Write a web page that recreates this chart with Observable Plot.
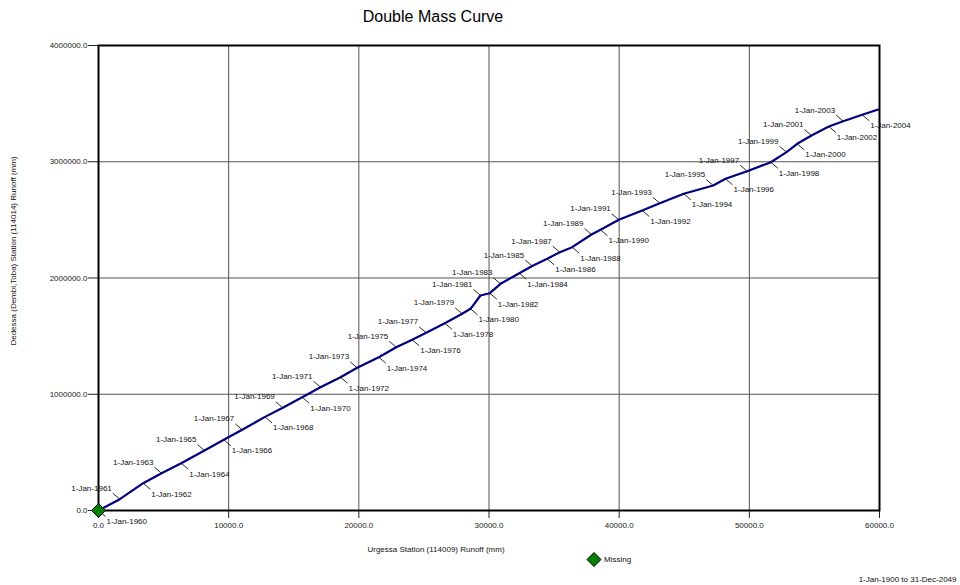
<!DOCTYPE html>
<html>
<head>
<meta charset="utf-8">
<script src="https://cdn.jsdelivr.net/npm/d3@7"></script>
<script src="https://cdn.jsdelivr.net/npm/@observablehq/plot@0.6"></script>
<style>
  html, body { margin: 0; padding: 0; background: white; }
  #chart { width: 960px; height: 585px; }
</style>
</head>
<body>
<div id="chart"></div>
<script>
// Cumulative runoff (one point per 1 January, plus the series end)
const dateLabels = [
  "1-Jan-1960","1-Jan-1961","1-Jan-1962","1-Jan-1963","1-Jan-1964","1-Jan-1965","1-Jan-1966","1-Jan-1967",
  "1-Jan-1968","1-Jan-1969","1-Jan-1970","1-Jan-1971","1-Jan-1972","1-Jan-1973","1-Jan-1974","1-Jan-1975",
  "1-Jan-1976","1-Jan-1977","1-Jan-1978","1-Jan-1979","1-Jan-1980","1-Jan-1981","1-Jan-1982","1-Jan-1983",
  "1-Jan-1984","1-Jan-1985","1-Jan-1986","1-Jan-1987","1-Jan-1988","1-Jan-1989","1-Jan-1990","1-Jan-1991",
  "1-Jan-1992","1-Jan-1993","1-Jan-1994","1-Jan-1995","1-Jan-1996","1-Jan-1997","1-Jan-1998","1-Jan-1999",
  "1-Jan-2000","1-Jan-2001","1-Jan-2002","1-Jan-2003","1-Jan-2004",""
];
const urgessaCum = [
  0, 1636, 3434, 4840, 6353, 8143, 9626, 11040, 12791, 14159, 15649, 17055, 18592, 19875, 21534, 22871,
  24100, 25175, 26605, 27941, 28579, 29347, 30062, 30884, 32328, 33319, 34471, 35440, 36392, 37875, 38566,
  39972, 41770, 43122, 44966, 47224, 48170, 49836, 51650, 52856, 53677, 54776, 56105, 57211, 58671, 59900
];
const dedessaCum = [
  0, 97200, 234800, 320900, 406900, 516100, 608200, 694200, 805200, 883400, 974600, 1060700, 1146700,
  1227500, 1318700, 1404700, 1468400, 1528600, 1611200, 1692000, 1735000, 1849500, 1869300, 1950100,
  2041300, 2103200, 2165200, 2222000, 2265000, 2374200, 2414600, 2500600, 2580600, 2643500, 2724300,
  2795700, 2853300, 2918700, 2996100, 3082200, 3154400, 3225800, 3303200, 3348800, 3403800, 3449400
];
const xTicks = [0, 10000, 20000, 30000, 40000, 50000, 60000];
const yTicks = [0, 1000000, 2000000, 3000000, 4000000];

const titleText = ["Double Mass Curve"];
const xTitle = ["Urgessa Station (114009) Runoff (mm)"];
const yTitle = ["Dedessa (Dembi,Toba) Station (114014) Runoff (mm)"];
const legendText = ["Missing"];
const periodText = ["1-Jan-1900 to 31-Dec-2049"];

const rows = urgessaCum.map((x, i) => ({x, y: dedessaCum[i], label: dateLabels[i], i}));
const labelled = rows.filter(d => d.label);
const above = labelled.filter(d => d.i % 2 === 1);
const below = labelled.filter(d => d.i % 2 === 0);

const leaderUp = {draw(ctx) { ctx.moveTo(-7, -6); ctx.lineTo(0, 0); }};
const leaderDown = {draw(ctx) { ctx.moveTo(0, 0); ctx.lineTo(7, 6); }};
const diamond = {draw(ctx) { ctx.moveTo(0, -7); ctx.lineTo(7, 0); ctx.lineTo(0, 7); ctx.lineTo(-7, 0); ctx.closePath(); }};

const fmt = d => d.toFixed(1);

const chart = Plot.plot({
  width: 960,
  height: 585,
  marginLeft: 98,
  marginRight: 81,
  marginTop: 45,
  marginBottom: 75,
  style: {fontFamily: "'Liberation Sans', Arial, Helvetica, sans-serif", fontSize: "8px", background: "white", color: "#222"},
  x: {domain: [0, 60000], ticks: xTicks, tickFormat: fmt, tickSize: 8, tickPadding: 4, label: null},
  y: {domain: [0, 4000000], ticks: yTicks, tickFormat: fmt, tickSize: 10, tickPadding: 1, label: null},
  marks: [
    Plot.ruleX(xTicks, {stroke: "#555", strokeWidth: 1}),
    Plot.ruleY(yTicks, {stroke: "#555", strokeWidth: 1}),
    Plot.line(rows, {x: "x", y: "y", stroke: "#00007f", strokeWidth: 2.2}),
    Plot.dot(above, {x: "x", y: "y", symbol: leaderUp, fill: "none", stroke: "#111", strokeWidth: 0.9}),
    Plot.dot(below, {x: "x", y: "y", symbol: leaderDown, fill: "none", stroke: "#111", strokeWidth: 0.9}),
    Plot.text(above, {x: "x", y: "y", text: "label", textAnchor: "end", dx: -8, dy: -11, fill: "#111", fontSize: 8}),
    Plot.text(below, {x: "x", y: "y", text: "label", textAnchor: "start", dx: 8, dy: 11, fill: "#111", fontSize: 8}),
    Plot.frame({stroke: "black", strokeWidth: 2}),
    Plot.dot(rows.slice(0, 1), {x: "x", y: "y", symbol: diamond, fill: "#007f00", stroke: "black", strokeWidth: 1}),
    Plot.text(titleText, {frameAnchor: "top", textAnchor: "middle", lineAnchor: "middle", dx: -56, dy: -29, fontSize: 16, fill: "black"}),
    Plot.text(xTitle, {frameAnchor: "bottom", textAnchor: "middle", lineAnchor: "middle", dx: -53, dy: 39, fontSize: 8, fill: "#111"}),
    Plot.text(yTitle, {frameAnchor: "left", textAnchor: "middle", lineAnchor: "middle", dx: -85, dy: -27, rotate: -90, fontSize: 8, fill: "#111"}),
    Plot.dot([0], {frameAnchor: "bottom", dx: 105, dy: 49, symbol: diamond, fill: "#007f00", stroke: "black", strokeWidth: 1}),
    Plot.text(legendText, {frameAnchor: "bottom", textAnchor: "start", lineAnchor: "middle", dx: 115, dy: 49, fontSize: 8, fill: "#111"}),
    Plot.text(periodText, {frameAnchor: "bottom-right", textAnchor: "end", lineAnchor: "middle", dx: 77, dy: 69, fontSize: 8, fill: "#111"})
  ]
});
document.getElementById("chart").appendChild(chart);
</script>
</body>
</html>
